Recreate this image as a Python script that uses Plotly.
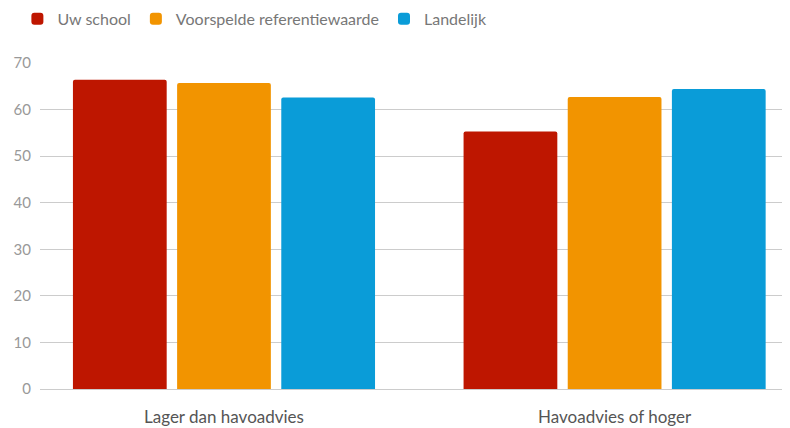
import plotly.graph_objects as go

# categories and series values
categories = ['Lager dan havoadvies', 'Havoadvies of hoger']
uw_school = [66.4, 55.3]
voorspelde = [65.7, 62.7]
landelijk = [62.6, 64.4]

series = [
    ('Uw school', uw_school, '#BE1600'),
    ('Voorspelde referentiewaarde', voorspelde, '#F29400'),
    ('Landelijk', landelijk, '#0A9CD8'),
]

fig = go.Figure()
for name, vals, col in series:
    fig.add_trace(go.Bar(
        x=list(range(len(categories))), y=vals, name=name,
        marker=dict(color=col, line=dict(width=0)),
        hoverinfo='y+name',
    ))

# page body adds an 8px margin, so the figure is 782x420
fig.update_layout(
    width=782, height=420,
    margin=dict(l=32, r=0, t=55, b=39),
    paper_bgcolor='white', plot_bgcolor='white',
    font=dict(family='Lato, sans-serif', color='#666'),
    barmode='group', bargap=0.2, bargroupgap=0.1, barcornerradius=2,
    showlegend=True,
    legend=dict(orientation='h', x=0.012, xref='container', xanchor='left',
                y=0.974, yref='container', yanchor='middle',
                font=dict(size=16, color='#777'), traceorder='normal'),
    xaxis=dict(
        tickmode='array', tickvals=list(range(len(categories))), ticktext=categories,
        range=[-0.471, 1.449], showgrid=False, zeroline=False, showline=False,
        tickfont=dict(size=17, color='#555'), ticks='', ticklabelstandoff=16,
        automargin=False,
    ),
    yaxis=dict(
        range=[0, 70], dtick=10, showgrid=True, gridcolor='#CCCCCC', gridwidth=1,
        zeroline=True, zerolinecolor='#CCCCCC', zerolinewidth=1, showline=False,
        tickfont=dict(size=15, color='#999'), ticks='', ticklabelstandoff=8,
        automargin=False,
    ),
)

fig.write_html('out.html')
